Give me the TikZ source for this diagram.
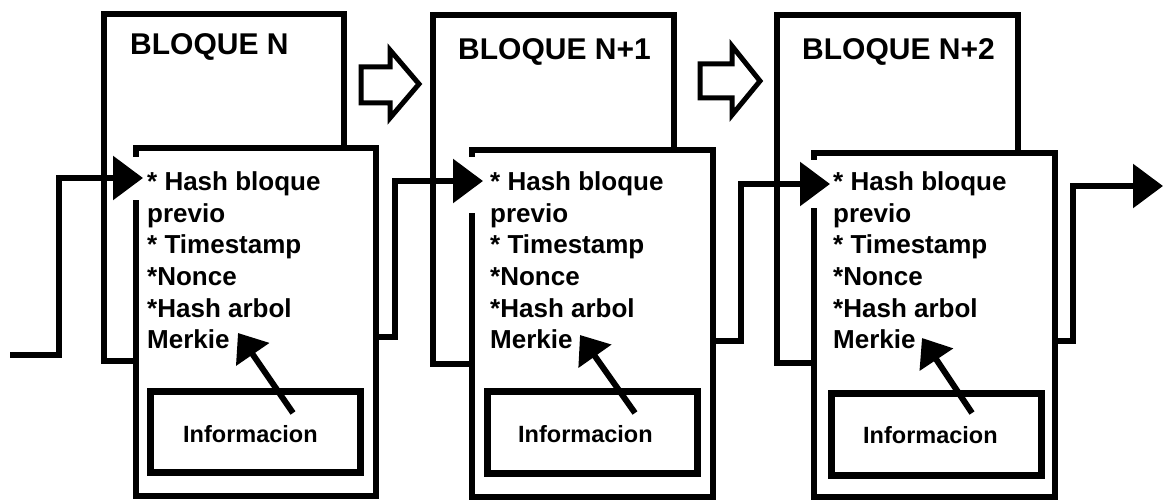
\documentclass[tikz,border=0pt]{standalone}
\usepackage{fontspec}
\setmainfont{Liberation Sans}
\usetikzlibrary{arrows.meta}
\begin{document}
\begin{tikzpicture}[x=1pt,y=-1pt,
  outerbox/.style={draw, line width=6pt, fill=white, inner sep=0pt, outer sep=0pt},
  innerbox/.style={draw, line width=6pt, fill=white, inner sep=0pt, outer sep=0pt},
  infobox/.style={draw, line width=7pt, fill=white, inner sep=0pt, outer sep=0pt},
  titletext/.style={anchor=base west, inner sep=0pt, font=\fontsize{30}{36}\selectfont\bfseries},
  fieldtext/.style={anchor=base west, inner sep=0pt, font=\fontsize{26}{31}\selectfont\bfseries},
  infotext/.style={anchor=base west, inner sep=0pt, font=\fontsize{23.5}{28}\selectfont\bfseries},
  conn/.style={line width=6pt, -{Triangle[length=30pt,width=43pt]}},
  merk/.style={line width=6pt, -{Triangle[length=26pt,width=39pt]}},
  hollow/.style={draw, line width=5pt, fill=white, line join=miter},
  gappatch/.style={fill=white, draw=none}
]
\useasboundingbox (0,0) rectangle (1167,500);

% outer blocks
\node[outerbox, minimum width=240pt, minimum height=347pt] (oA) at (224,187.5) {};
\node[outerbox, minimum width=241pt, minimum height=349pt] (oB) at (553.5,189.5) {};
\node[outerbox, minimum width=241pt, minimum height=348pt] (oC) at (897.5,189) {};

% hollow arrows between blocks
\draw[hollow] (361,67) -- (390,67) -- (390,50) -- (419,84) -- (390,118) -- (390,103) -- (361,103) -- cycle;
\draw[hollow] (700,64) -- (732,64) -- (732,46) -- (760,81) -- (732,115) -- (732,98) -- (700,98) -- cycle;

% inner header boxes
\node[innerbox, minimum width=240pt, minimum height=348pt] (iA) at (256,322) {};
\node[innerbox, minimum width=241pt, minimum height=347pt] (iB) at (592.5,323.5) {};
\node[innerbox, minimum width=241pt, minimum height=344pt] (iC) at (934.5,325) {};

% white gaps next to incoming arrowheads
\fill[gappatch] (130,157) rectangle (142,200);
\fill[gappatch] (466,157) rectangle (478,213);
\fill[gappatch] (808,160) rectangle (820,208);

% information boxes
\node[infobox, minimum width=210pt, minimum height=81pt] (xA) at (255,431.5) {};
\node[infobox, minimum width=210pt, minimum height=82pt] (xB) at (592,432) {};
\node[infobox, minimum width=210pt, minimum height=82pt] (xC) at (936,434) {};

% titles
\node[titletext] (tA) at (130,55) {BLOQUE N};
\node[titletext] (tB) at (458,60) {BLOQUE N+1};
\node[titletext] (tC) at (802,60) {BLOQUE N+2};

% fields
\foreach \b/\x in {A/147,B/490,C/833}{
  \foreach \i/\y/\t in {1/190/{* Hash bloque},2/222/{previo},3/253/{* Timestamp},4/285/{*Nonce},5/317/{*Hash arbol},6/348/{Merkie}}{
    \node[fieldtext] (f\b\i) at (\x,\y) {\t};
  }
}

% information labels
\node[infotext] (nA) at (183,442) {Informacion};
\node[infotext] (nB) at (518,442) {Informacion};
\node[infotext] (nC) at (863,443) {Informacion};

% chain connectors
\coordinate (c0a) at (10,355);  \coordinate (c0b) at (59,178);  \coordinate (c0t) at (143,178);
\coordinate (c1s) at (376,337); \coordinate (c1b) at (395,181); \coordinate (c1t) at (483,181);
\coordinate (c2s) at (713,341); \coordinate (c2b) at (741,184); \coordinate (c2t) at (830,184);
\coordinate (c3s) at (1055,341);\coordinate (c3b) at (1073,186);\coordinate (c3t) at (1163,186);
\draw[conn] (c0a) -| (c0b) -- (c0t);
\draw[conn] (c1s) -| (c1b) -- (c1t);
\draw[conn] (c2s) -| (c2b) -- (c2t);
\draw[conn] (c3s) -| (c3b) -- (c3t);

% merkle arrows
\coordinate (m1s) at (293,413); \coordinate (m1t) at (238,333);
\coordinate (m2s) at (635,413); \coordinate (m2t) at (580,335);
\coordinate (m3s) at (972,413); \coordinate (m3t) at (922,338);
\draw[merk] (m1s) -- (m1t);
\draw[merk] (m2s) -- (m2t);
\draw[merk] (m3s) -- (m3t);
\end{tikzpicture}
\end{document}
